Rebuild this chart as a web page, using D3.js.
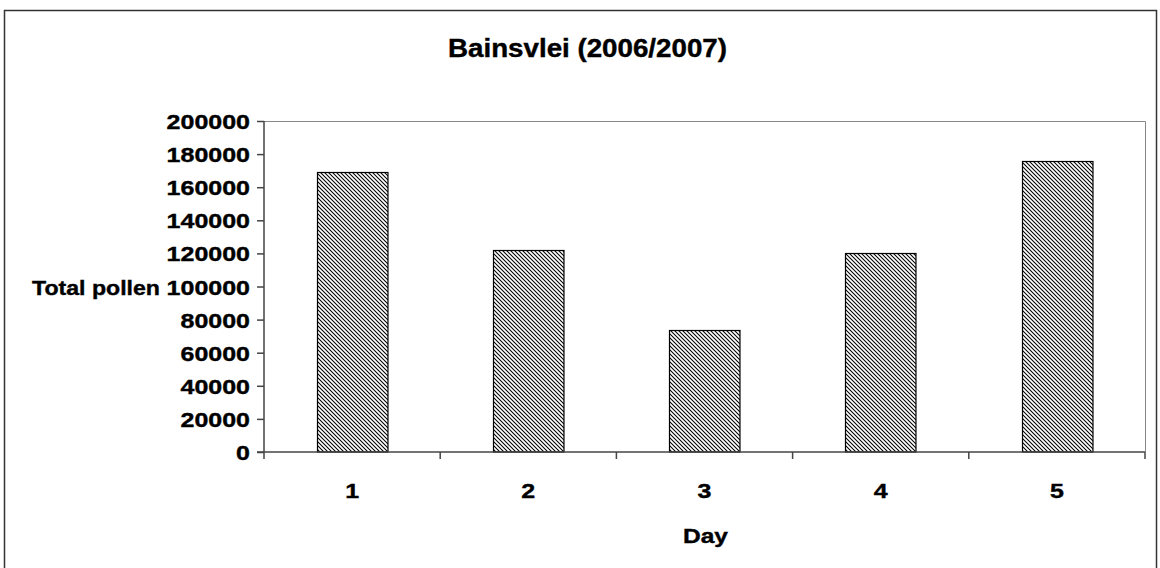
<!DOCTYPE html>
<html><head><meta charset="utf-8">
<script src="https://cdn.jsdelivr.net/npm/d3@7"></script>
<style>html,body{margin:0;padding:0;background:#fff}svg{display:block}</style>
</head><body>
<script>
const title = "Bainsvlei (2006/2007)";
const categories = ["1", "2", "3", "4", "5"];
const values = [169000, 122000, 74000, 120000, 176000];
const yTicks = [0, 20000, 40000, 60000, 80000, 100000, 120000, 140000, 160000, 180000, 200000];
const yLabel = "Total pollen";
const xLabel = "Day";

const W = 1160, H = 568;
const plot = {left: 264, right: 1145, top: 121, bottom: 452};
const FONT = "'Liberation Sans', Arial, sans-serif";
const DIGIT_W = 13.9;

const svg = d3.select("body").append("svg").attr("width", W).attr("height", H);
const defs = svg.append("defs");
const pat = defs.append("pattern").attr("id", "hatch").attr("patternUnits", "userSpaceOnUse")
  .attr("width", 4).attr("height", 4);
pat.append("rect").attr("width", 4).attr("height", 4).attr("fill", "#fff");
pat.append("path").attr("d", "M-1,-1L5,5M3,-1L5,1M-1,3L1,5").attr("stroke", "#000").attr("stroke-width", 1.05);

// outer border
svg.append("rect").attr("x", 4.5).attr("y", 10.5).attr("width", 1152).attr("height", 570)
  .attr("fill", "none").attr("stroke", "#333").attr("stroke-width", 1.5);

const x = d3.scaleBand().domain(categories).range([plot.left, plot.right]).paddingInner(0.6).paddingOuter(0.3);
const xb = d3.scaleBand().domain(categories).range([plot.left, plot.right]);
const y = d3.scaleLinear().domain([0, 200000]).range([plot.bottom, plot.top]);

// plot border (top/right gray)
svg.append("path").attr("d", `M${plot.left},${plot.top+0.5}H${plot.right+0.5}V${plot.bottom}`)
  .attr("fill", "none").attr("stroke", "#888").attr("stroke-width", 1);

function stext(txt, px, py, size, anchor, width) {
  return svg.append("text").text(txt)
    .attr("x", px).attr("y", py)
    .attr("font-family", FONT).attr("font-weight", "bold")
    .attr("font-size", size).attr("text-anchor", anchor).attr("dominant-baseline", "central")
    .attr("fill", "#000").attr("stroke", "#000").attr("stroke-width", 0.4)
    .attr("textLength", width).attr("lengthAdjust", "spacingAndGlyphs");
}

// bars
svg.append("g").selectAll("rect").data(values).join("rect")
  .attr("x", (d, i) => Math.round(x(categories[i])) + 0.5)
  .attr("y", d => Math.round(y(d)) + 0.5)
  .attr("width", x.bandwidth())
  .attr("height", d => y(0) - Math.round(y(d)) - 0.5)
  .attr("fill", "url(#hatch)").attr("stroke", "#000").attr("stroke-width", 1.2);

// y axis
const ya = svg.append("g").attr("transform", `translate(${plot.left},0)`)
  .call(d3.axisLeft(y).tickValues(yTicks).tickSize(7).tickFormat(""));
ya.selectAll("path,line").attr("stroke", "#444").attr("stroke-width", 1.5);
ya.select(".domain").attr("d", `M0,${plot.top}V${plot.bottom}`);
yTicks.forEach(v => stext(String(v), 250, y(v) + 0.5, 21, "end", String(v).length * DIGIT_W));

// x axis
const xa = svg.append("g").attr("transform", `translate(0,${plot.bottom})`)
  .call(d3.axisBottom(xb).tickSize(0).tickFormat(""));
xa.select(".domain").attr("d", `M${plot.left - 7},0H${plot.right}`).attr("stroke", "#444").attr("stroke-width", 1.5);
const bounds = categories.map(c => xb(c)).concat([plot.right]);
xa.selectAll(".bound").data(bounds).join("line").attr("class", "bound")
  .attr("x1", d => d).attr("x2", d => d).attr("y1", 0).attr("y2", 7)
  .attr("stroke", "#444").attr("stroke-width", 1.5);
categories.forEach(c => stext(c, xb(c) + xb.bandwidth() / 2, 490, 21, "middle", DIGIT_W));

// labels
stext(yLabel, 160, (plot.top + plot.bottom) / 2 + 0.5, 21, "end", 128);
stext(xLabel, (plot.left + plot.right) / 2 + 1, 535, 21, "middle", 45);
stext(title, 587.5, 48, 25, "middle", 279);
</script>
</body></html>
